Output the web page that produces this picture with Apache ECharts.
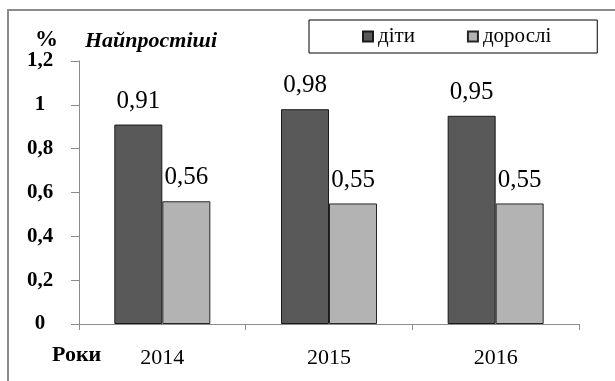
<!DOCTYPE html>
<html>
<head>
<meta charset="utf-8">
<script src="https://cdn.jsdelivr.net/npm/echarts@6/dist/echarts.min.js"></script>
<style>
  html, body { margin: 0; padding: 0; background: #fff; }
  #chart { width: 615px; height: 381px; }
</style>
</head>
<body>
<div id="chart"></div>
<script>
// Years on the category axis
const years = ['2014', '2015', '2016'];
// Share of cases, %
const children = [0.91, 0.98, 0.95];
const adults = [0.56, 0.55, 0.55];
// Series names as shown in the legend
const seriesNames = ['діти', 'дорослі'];
// Value axis ticks
const yTicks = [0, 0.2, 0.4, 0.6, 0.8, 1, 1.2];

const serif = 'Liberation Serif';
const comma = v => String(Number(v.toFixed(2))).replace('.', ',');

const chart = echarts.init(document.getElementById('chart'), null, { renderer: 'canvas' });

chart.setOption({
  animation: false,
  backgroundColor: '#fff',
  textStyle: { fontFamily: serif },
  grid: { left: 79, right: 36, top: 61, bottom: 57, containLabel: false },
  legend: {
    left: 309,
    top: 20,
    padding: [6, 46, 6, 53],
    borderColor: '#000',
    borderWidth: 1,
    itemWidth: 10,
    itemHeight: 10,
    itemGap: 52,
    icon: 'rect',
    textStyle: { fontFamily: serif, fontSize: 21, color: '#000' },
    data: seriesNames
  },
  xAxis: {
    type: 'category',
    data: years,
    axisLine: { lineStyle: { color: '#8c8c8c', width: 1 } },
    axisTick: { show: true, length: 6, lineStyle: { color: '#8c8c8c' } },
    axisLabel: { fontFamily: serif, fontSize: 22, color: '#000', margin: 23 }
  },
  yAxis: {
    type: 'value',
    min: yTicks[0],
    max: yTicks[yTicks.length - 1],
    interval: yTicks[1] - yTicks[0],
    splitLine: { show: false },
    axisLine: { show: true, lineStyle: { color: '#8c8c8c', width: 1 } },
    axisTick: { show: true, length: 8, lineStyle: { color: '#8c8c8c' } },
    axisLabel: {
      fontFamily: serif, fontSize: 21, fontWeight: 'bold', color: '#000',
      align: 'center', margin: 39,
      formatter: v => comma(v)
    }
  },
  series: [
    {
      name: seriesNames[0],
      type: 'bar',
      data: children,
      barWidth: 48,
      barGap: '0%',
      itemStyle: { color: '#595959', borderColor: '#1a1a1a', borderWidth: 1 },
      label: {
        show: true, position: 'top', distance: 11,
        fontFamily: serif, fontSize: 25, color: '#000',
        formatter: p => comma(p.value)
      }
    },
    {
      name: seriesNames[1],
      type: 'bar',
      data: adults,
      barWidth: 48,
      itemStyle: { color: '#b3b3b3', borderColor: '#262626', borderWidth: 1 },
      label: {
        show: true, position: 'top', distance: 11,
        fontFamily: serif, fontSize: 25, color: '#000',
        formatter: p => comma(p.value)
      }
    }
  ],
  graphic: [
    {
      type: 'rect',
      shape: { x: 8, y: 10, width: 700, height: 500 },
      style: { fill: 'none', stroke: '#8c8c8c', lineWidth: 2 },
      silent: true
    },
    {
      type: 'text', left: 35, top: 29,
      style: { text: '%', fontFamily: serif, fontSize: 23, fontWeight: 'bold', fill: '#000' }
    },
    {
      type: 'text', left: 85, top: 30,
      style: { text: 'Найпростіші', fontFamily: serif, fontSize: 22, fontWeight: 'bold', fontStyle: 'italic', fill: '#000' }
    },
    {
      type: 'text', left: 52, top: 344,
      style: { text: 'Роки', fontFamily: serif, fontSize: 22, fontWeight: 'bold', fill: '#000' }
    }
  ]
});
</script>
</body>
</html>
